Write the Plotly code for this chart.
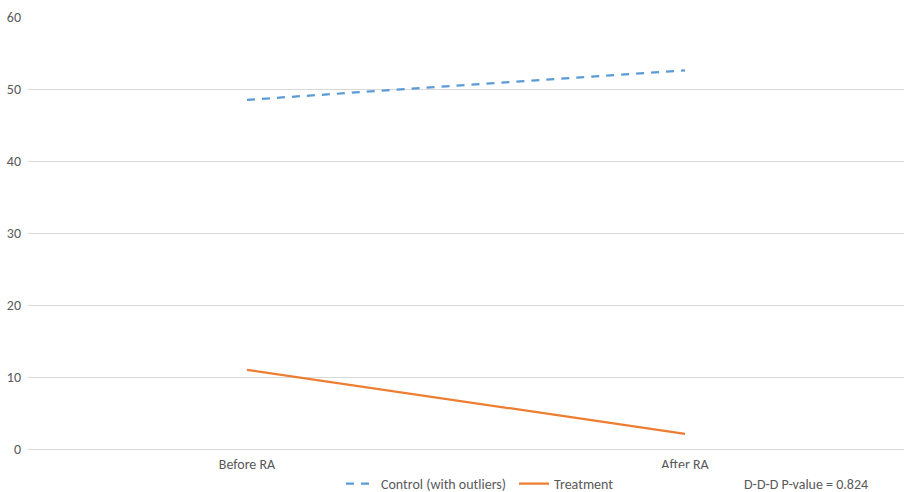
import plotly.graph_objects as go

periods = ["Before RA", "After RA"]
control = [48.5, 52.6]
treatment = [11.0, 2.1]
y_ticks = [0, 10, 20, 30, 40, 50, 60]
p_value_text = "D-D-D P-value = 0.824"

font_family = "Carlito, Calibri, Lato, sans-serif"
text_color = "#595959"

fig = go.Figure()
fig.add_trace(go.Scatter(
    x=periods, y=control, mode="lines", name="Control (with outliers)",
    line=dict(color="#5b9bd5", width=2.25, dash="8px,7px"),
))
fig.add_trace(go.Scatter(
    x=periods, y=treatment, mode="lines", name="Treatment",
    line=dict(color="#ed7d31", width=2.25),
))

fig.update_layout(
    width=904, height=492,
    margin=dict(l=28, r=0, t=17, b=43, autoexpand=False),
    paper_bgcolor="white", plot_bgcolor="white",
    font=dict(family=font_family, size=14, color=text_color),
    showlegend=True,
    legend=dict(orientation="h", xref="container", yref="container",
                x=341 / 904, xanchor="left", y=(492 - 484) / 492, yanchor="middle",
                font=dict(size=14, color=text_color), tracegroupgap=0,
                entrywidth=128, entrywidthmode="pixels"),
    xaxis=dict(type="category", range=[-0.5, 1.5], showgrid=False, showline=False,
               ticks="", ticklabelstandoff=5, automargin=False,
               tickfont=dict(size=14, color=text_color), fixedrange=True),
    yaxis=dict(range=[0, 60], tickvals=y_ticks, showgrid=True, gridcolor="#d9d9d9",
               gridwidth=1, zeroline=True, zerolinecolor="#d9d9d9", zerolinewidth=1,
               showline=False, ticks="", ticklabelstandoff=6, automargin=False,
               tickfont=dict(size=14, color=text_color)),
    annotations=[dict(text=p_value_text, xref="paper", yref="paper",
                      x=(870 - 28) / 876, y=(449 - 485) / 432,
                      xanchor="right", yanchor="middle", showarrow=False,
                      font=dict(size=14, color=text_color))],
)

fig.write_html("out.html")
